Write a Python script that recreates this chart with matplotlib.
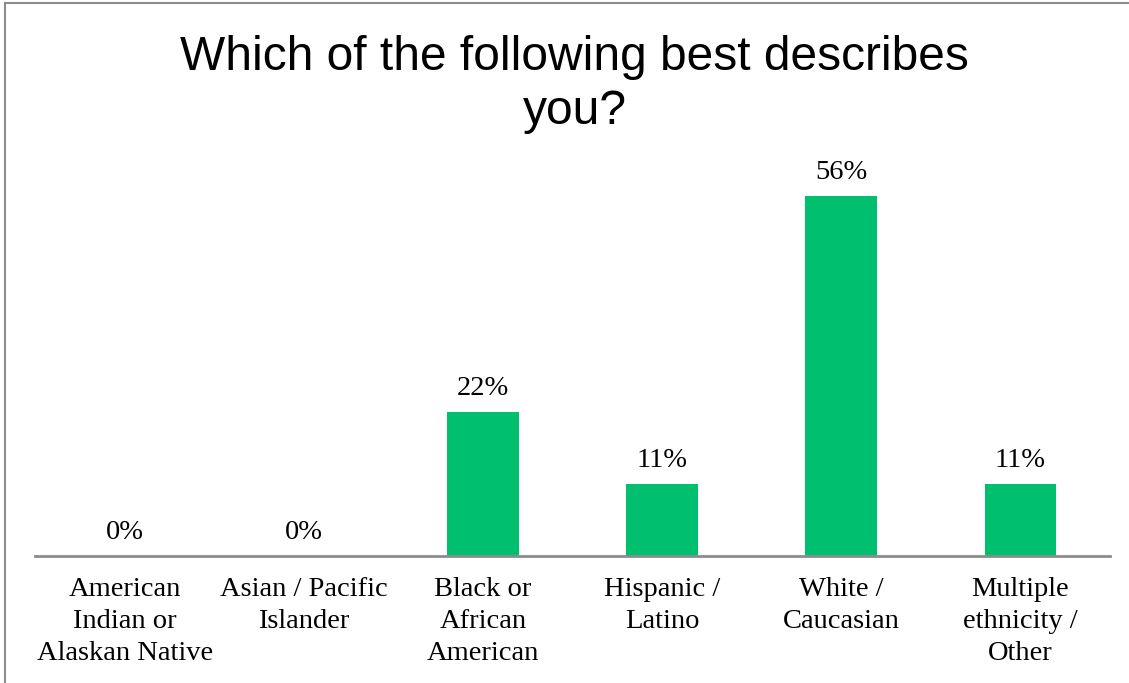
import matplotlib.pyplot as plt

categories = ["American\nIndian or\nAlaskan Native", "Asian / Pacific\nIslander",
              "Black or\nAfrican\nAmerican", "Hispanic /\nLatino",
              "White /\nCaucasian", "Multiple\nethnicity /\nOther"]
values = [0, 0, 22.22, 11.11, 55.56, 11.11]
labels = ["0%", "0%", "22%", "11%", "56%", "11%"]

fig = plt.figure(figsize=(11.29, 6.83), dpi=100)

# chart frame (left and top edges visible)
fig.add_artist(plt.Line2D([5 / 1129, 5 / 1129], [0, 1 - 3 / 683], color="#8c8c8c", lw=1.5))
fig.add_artist(plt.Line2D([5 / 1129, 1], [1 - 3 / 683, 1 - 3 / 683], color="#8c8c8c", lw=1.5))

ax = fig.add_axes([35 / 1129, (683 - 556) / 683, (1110 - 35) / 1129, (556 - 170) / 683])
x = range(len(categories))
ax.bar(x, values, width=0.4, color="#00bf6f")
ax.set_xlim(-0.5, len(categories) - 0.5)
ax.set_ylim(0, 55.56 * 386 / 360)

for i, (v, t) in enumerate(zip(values, labels)):
    ax.annotate(t, (i, v), xytext=(0, 8), textcoords="offset points",
                ha="center", va="bottom", fontsize=20.5, family="Liberation Serif")

ax.set_xticks(list(x))
ax.set_xticklabels(categories, fontsize=20.5, family="Liberation Serif", linespacing=1.37)
ax.tick_params(axis="x", length=0, pad=15)
ax.set_yticks([])
for s in ["left", "right", "top"]:
    ax.spines[s].set_visible(False)
ax.spines["bottom"].set_color("#8c8c8c")
ax.spines["bottom"].set_linewidth(2)

fig.text(0.509, 1 - 124 / 683, "Which of the following best describes\nyou?", ha="center",
         va="baseline", fontsize=34.5, family="Liberation Sans", linespacing=1.25)

plt.savefig("out.png", dpi=100)
